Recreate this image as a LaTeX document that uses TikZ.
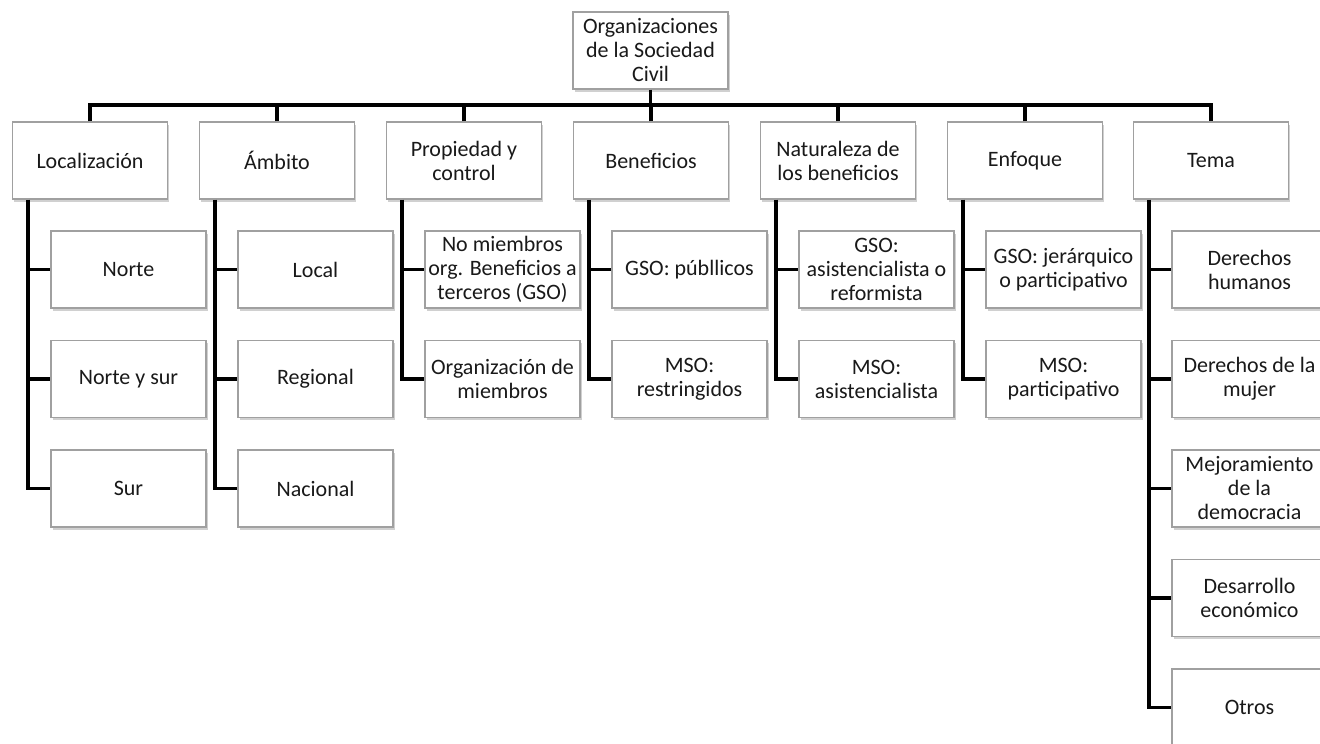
\documentclass[tikz,border=0pt]{standalone}
\usepackage{fontspec}
\setmainfont{Carlito}
\usetikzlibrary{shadows}
\definecolor{boxgray}{RGB}{160,160,160}
\definecolor{textgray}{RGB}{25,25,25}
\begin{document}
\begin{tikzpicture}[x=1pt,y=-1pt,
  box/.style={draw=boxgray, line width=1.1pt, fill=white,
    minimum width=155pt, minimum height=77pt, inner sep=0pt,
    align=center, font=\fontsize{22}{24}\selectfont, text=textgray,
    drop shadow={shadow xshift=1.5pt, shadow yshift=-2.5pt, opacity=0.3, fill=black!60}},
  conn/.style={line width=3.5pt, draw=black}]
\fill[white] (0,0) rectangle (1320,744);
\useasboundingbox (0,0) rectangle (1320,744);

% root
\node[box] (root) at (650.5,50.5) {Organizaciones\\de la Sociedad\\Civil};

% level 1
\node[box] (L) at (90,160.5) {Localización};
\node[box] (A) at (277,160.5) {Ámbito};
\node[box] (P) at (464,160.5) {Propiedad y\\control};
\node[box] (B) at (651,160.5) {Beneficios};
\node[box] (N) at (838,160.5) {Naturaleza de\\los beneficios};
\node[box] (E) at (1025,160.5) {Enfoque};
\node[box] (T) at (1211,160.5) {Tema};

% children
\node[box] (L1) at (128.5,269.5) {Norte};
\node[box] (L2) at (128.5,379) {Norte y sur};
\node[box] (L3) at (128.5,488.5) {Sur};

\node[box] (A1) at (315.5,269.5) {Local};
\node[box] (A2) at (315.5,379) {Regional};
\node[box] (A3) at (315.5,488.5) {Nacional};

\node[box] (P1) at (502.5,269.5) {No miembros\\org. Beneficios a\\terceros (GSO)};
\node[box] (P2) at (502.5,379) {Organización de\\miembros};

\node[box] (B1) at (689.5,269.5) {GSO: públlicos};
\node[box] (B2) at (689.5,379) {MSO:\\restringidos};

\node[box] (N1) at (876.5,269.5) {GSO:\\asistencialista o\\reformista};
\node[box] (N2) at (876.5,379) {MSO:\\asistencialista};

\node[box] (E1) at (1063.5,269.5) {GSO: jerárquico\\o participativo};
\node[box] (E2) at (1063.5,379) {MSO:\\participativo};

\node[box] (T1) at (1249.5,269.5) {Derechos\\humanos};
\node[box] (T2) at (1249.5,379) {Derechos de la\\mujer};
\node[box] (T3) at (1249.5,488.5) {Mejoramiento\\de la\\democracia};
\node[box] (T4) at (1249.5,598) {Desarrollo\\económico};
\node[box] (T5) at (1249.5,707.5) {Otros};

% bus
\coordinate (bus) at (90,105);
\draw[conn] (root.south) -- (root.south |- bus);
\draw[conn] (L.north) -- (L.north |- bus) -- (T.north |- bus) -- (T.north);
\foreach \n in {A,P,B,N,E} \draw[conn] (\n.north) -- (\n.north |- bus);

% trunks
\foreach \p/\last in {L/L3,A/A3,P/P2,B/B2,N/N2,E/E2,T/T5} {
  \coordinate (\p t) at ([xshift=16pt]\p.south west);
  \draw[conn] (\p t) |- (\last.west);
}
\foreach \c/\p in {L1/L,L2/L,A1/A,A2/A,P1/P,B1/B,N1/N,E1/E,T1/T,T2/T,T3/T,T4/T} {
  \draw[conn] (\p t |- \c.west) -- (\c.west);
}
\end{tikzpicture}
\end{document}
